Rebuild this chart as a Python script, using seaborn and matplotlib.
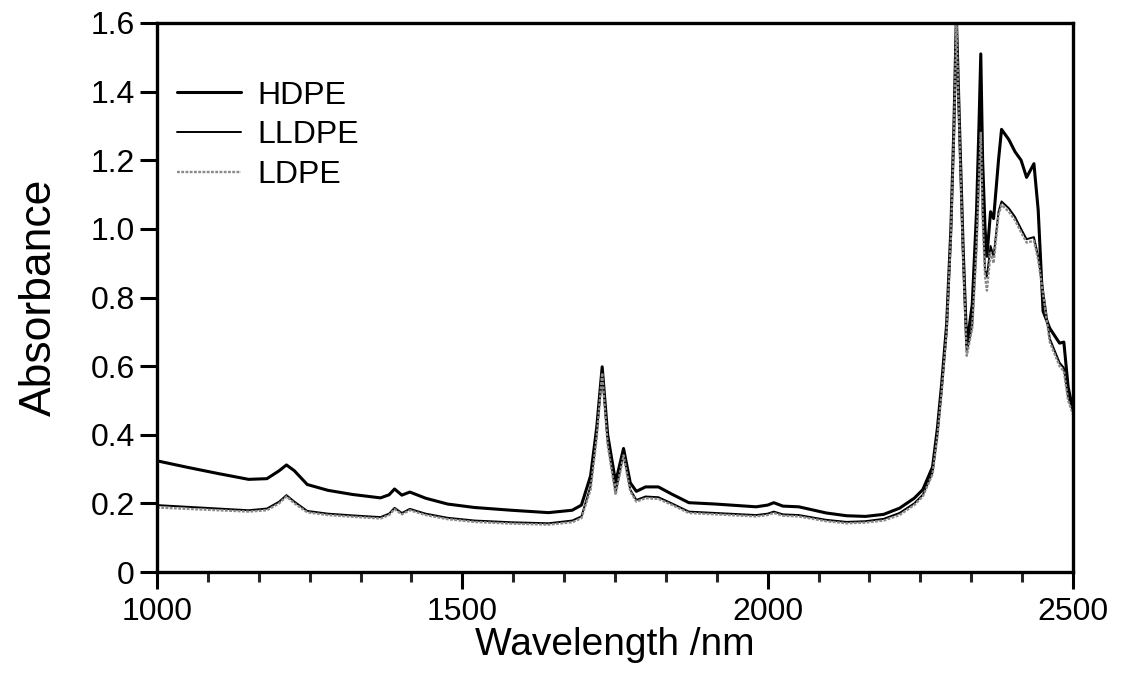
import numpy as np
import pandas as pd
import matplotlib
matplotlib.use("Agg")
import matplotlib.pyplot as plt
import seaborn as sns
from matplotlib.ticker import MultipleLocator, FuncFormatter

wavelength = [1000, 1050, 1100, 1150, 1180, 1200, 1212, 1225, 1246, 1280, 1320, 1366,
              1380, 1389, 1401, 1414, 1440, 1476, 1520, 1580, 1641, 1680, 1695, 1710,
              1720, 1729, 1738, 1751, 1764, 1775, 1785, 1800, 1821, 1843, 1871, 1915,
              1981, 2000, 2010, 2025, 2051, 2096, 2129, 2160, 2190, 2216, 2240, 2254,
              2270, 2278, 2285, 2293, 2300, 2305, 2309, 2315, 2320, 2326, 2335, 2342,
              2346, 2349, 2352, 2356, 2359, 2365, 2370, 2378, 2383, 2395, 2405, 2415,
              2424, 2436, 2443, 2451, 2462, 2478, 2485, 2492, 2500]

hdpe = [0.324, 0.305, 0.287, 0.270, 0.272, 0.295, 0.312, 0.295, 0.255, 0.238, 0.226, 0.216,
        0.225, 0.242, 0.224, 0.233, 0.215, 0.198, 0.188, 0.180, 0.173, 0.180, 0.195, 0.280,
        0.420, 0.598, 0.400, 0.262, 0.360, 0.260, 0.235, 0.248, 0.248, 0.227, 0.202, 0.198,
        0.190, 0.195, 0.202, 0.192, 0.190, 0.172, 0.164, 0.162, 0.168, 0.186, 0.215, 0.240,
        0.306, 0.420, 0.550, 0.720, 1.000, 1.300, 1.620, 1.250, 0.950, 0.660, 0.780, 1.050,
        1.300, 1.510, 1.200, 1.000, 0.920, 1.050, 1.030, 1.200, 1.290, 1.260, 1.225, 1.200,
        1.150, 1.190, 1.055, 0.760, 0.710, 0.667, 0.670, 0.540, 0.470]

lldpe = [0.195, 0.190, 0.185, 0.180, 0.185, 0.205, 0.224, 0.205, 0.178, 0.170, 0.165, 0.160,
         0.170, 0.187, 0.172, 0.184, 0.170, 0.158, 0.150, 0.145, 0.142, 0.150, 0.162, 0.250,
         0.400, 0.585, 0.380, 0.232, 0.345, 0.240, 0.210, 0.220, 0.218, 0.200, 0.176, 0.172,
         0.166, 0.170, 0.176, 0.168, 0.166, 0.152, 0.146, 0.148, 0.155, 0.172, 0.200, 0.225,
         0.290, 0.400, 0.530, 0.700, 0.980, 1.280, 1.600, 1.220, 0.920, 0.640, 0.720, 0.950,
         1.150, 1.290, 1.050, 0.880, 0.860, 0.950, 0.920, 1.050, 1.080, 1.060, 1.035, 1.000,
         0.970, 0.976, 0.920, 0.820, 0.680, 0.610, 0.595, 0.510, 0.470]

ldpe = [0.188, 0.184, 0.180, 0.176, 0.180, 0.200, 0.220, 0.200, 0.174, 0.166, 0.161, 0.156,
        0.166, 0.183, 0.168, 0.180, 0.166, 0.154, 0.146, 0.141, 0.138, 0.145, 0.157, 0.240,
        0.390, 0.580, 0.370, 0.225, 0.340, 0.235, 0.205, 0.215, 0.213, 0.196, 0.172, 0.168,
        0.162, 0.166, 0.172, 0.164, 0.162, 0.148, 0.142, 0.144, 0.150, 0.166, 0.195, 0.220,
        0.285, 0.395, 0.525, 0.695, 0.975, 1.275, 1.600, 1.215, 0.915, 0.630, 0.710, 0.940,
        1.140, 1.280, 1.030, 0.860, 0.820, 0.930, 0.900, 1.040, 1.070, 1.050, 1.025, 0.990,
        0.960, 0.965, 0.910, 0.810, 0.670, 0.600, 0.585, 0.500, 0.460]

series_names = ["HDPE", "LLDPE", "LDPE"]
x_ticks = [1000, 1500, 2000, 2500]
y_ticks = [0, 0.2, 0.4, 0.6, 0.8, 1.0, 1.2, 1.4, 1.6]

sns.set_style("ticks")
plt.rcParams["font.family"] = ["Liberation Sans", "DejaVu Sans"]
plt.rcParams["text.color"] = "black"
plt.rcParams["axes.labelcolor"] = "black"

fig = plt.figure(figsize=(11.23, 6.87), dpi=100)
ax = fig.add_axes([157 / 1123, 1 - 572 / 687, (1073 - 157) / 1123, (572 - 23) / 687])

styles = {
    "HDPE": dict(color="black", linewidth=2.2, linestyle="-"),
    "LLDPE": dict(color="black", linewidth=1.4, linestyle="-"),
    "LDPE": dict(color="#8a8a8a", linewidth=1.7, linestyle=(0, (1.2, 0.6))),
}
for name, vals in zip(series_names, [hdpe, lldpe, ldpe]):
    df = pd.DataFrame({"Wavelength": wavelength, "Absorbance": vals})
    sns.lineplot(data=df, x="Wavelength", y="Absorbance", ax=ax, label=name,
                 sort=False, **styles[name])

ax.set_xlim(1000, 2500)
ax.set_ylim(0, 1.6)
ax.set_xticks(x_ticks)
ax.xaxis.set_minor_locator(MultipleLocator(500 / 6))
ax.set_yticks(y_ticks)
ax.yaxis.set_major_formatter(FuncFormatter(lambda v, p: "0" if abs(v) < 1e-9 else f"{v:.1f}"))

for s in ax.spines.values():
    s.set_linewidth(2.4)
    s.set_color("black")

ax.tick_params(axis="both", which="major", direction="out", length=12, width=2.2,
               labelsize=23, colors="black")
ax.tick_params(axis="x", which="minor", direction="out", length=7, width=2.2)
ax.tick_params(axis="x", which="major", pad=6)
ax.tick_params(axis="y", which="major", pad=4)

ax.set_xlabel("Wavelength /nm", fontsize=28, labelpad=0, color="black")
ax.set_ylabel("Absorbance", fontsize=32, labelpad=22, color="black")

leg = ax.legend(loc="upper left", bbox_to_anchor=(0.022, 0.895), frameon=False,
                fontsize=23, handlelength=2.0, handletextpad=0.5, labelspacing=0.3,
                borderaxespad=0, borderpad=0)
for t in leg.get_texts():
    t.set_color("black")

fig.savefig("out.png", dpi=100)
